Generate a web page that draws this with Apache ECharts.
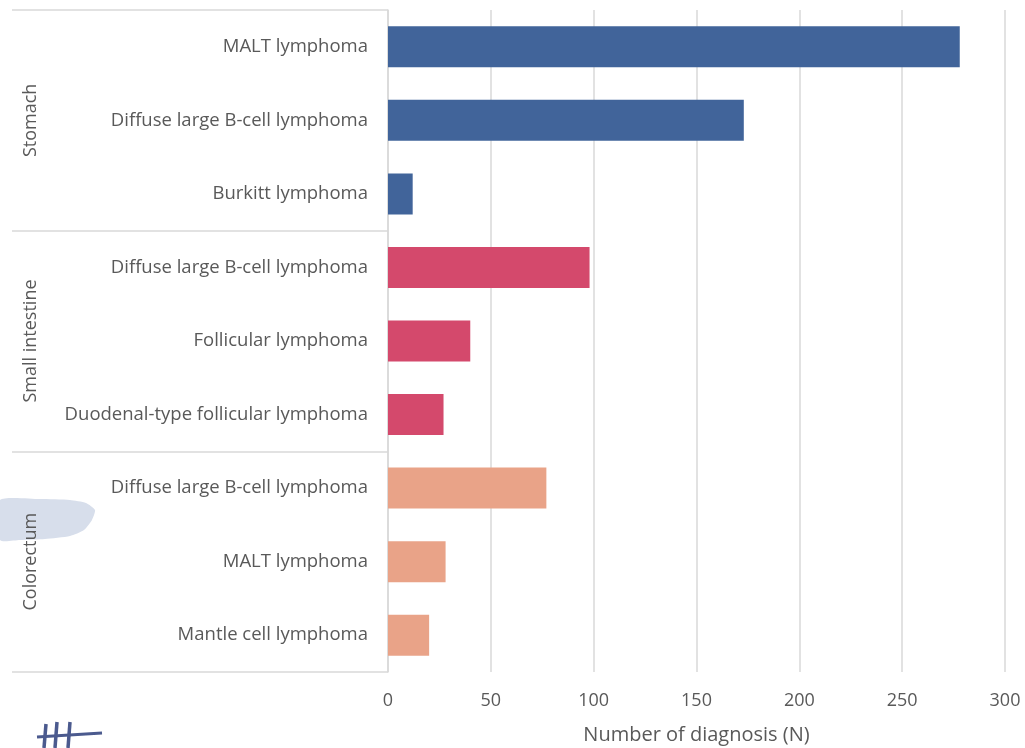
<!DOCTYPE html>
<html><head><meta charset="utf-8">
<script src="https://cdn.jsdelivr.net/npm/echarts@6/dist/echarts.min.js"></script>
<style>html,body{margin:0;padding:0;background:#fff}#c{width:1025px;height:748px}</style>
</head><body><div id="c"></div>
<script>
const groups = ["Stomach", "Small intestine", "Colorectum"];
const categories = [
  "MALT lymphoma", "Diffuse large B-cell lymphoma", "Burkitt lymphoma",
  "Diffuse large B-cell lymphoma", "Follicular lymphoma", "Duodenal-type follicular lymphoma",
  "Diffuse large B-cell lymphoma", "MALT lymphoma", "Mantle cell lymphoma"
];
const categoryGroup = [0, 0, 0, 1, 1, 1, 2, 2, 2];
const values = [278, 173, 12, 98, 40, 27, 77, 28, 20];
const xTicks = [0, 50, 100, 150, 200, 250, 300];
const groupColors = ["#41649A", "#D4496C", "#E9A388"];

const FONT = "Open Sans";
const TXT = "#595959";
const chart = echarts.init(document.getElementById('c'));
chart.setOption({
  animation: false,
  textStyle: { fontFamily: FONT },
  grid: { left: 388, right: 20, top: 10, bottom: 76, containLabel: false, outerBoundsMode: 'none' },
  xAxis: {
    type: 'value', min: xTicks[0], max: xTicks[xTicks.length - 1], interval: 50,
    axisLine: { show: false }, axisTick: { show: false },
    splitLine: { lineStyle: { color: '#D9D9D9', width: 1.5 } },
    axisLabel: { color: TXT, fontSize: 18, margin: 20, fontFamily: FONT },
    name: 'Number of diagnosis (N)', nameLocation: 'middle', nameGap: 53,
    nameTextStyle: { color: TXT, fontSize: 20, fontFamily: FONT }
  },
  yAxis: [{
    type: 'category', data: categories.map((c, i) => i + '|' + c), inverse: true,
    axisLine: { show: true, lineStyle: { color: '#D9D9D9', width: 1.5 } },
    axisTick: { show: false },
    axisLabel: { color: TXT, fontSize: 18.5, margin: 20, fontFamily: FONT,
      formatter: v => v.split('|')[1] }
  }, {
    type: 'category', data: groups, inverse: true, position: 'left',
    axisLine: { show: false },
    axisTick: { show: true, length: 376, lineStyle: { color: '#D9D9D9', width: 1.5 } },
    axisLabel: { color: TXT, fontSize: 18, rotate: 90, margin: 348, fontFamily: FONT }
  }],
  series: [{
    type: 'bar', yAxisIndex: 0, barWidth: 41,
    data: values.map((v, i) => ({ value: v, itemStyle: { color: groupColors[categoryGroup[i]] } }))
  }],
  graphic: [
    { type: 'polygon', z: -1,
      shape: { points: [[0,500],[40,499],[70,500],[86,503],[95,510],[92,520],[84,530],[70,536],[45,539],[20,540],[0,540]], smooth: 0.2 },
      style: { fill: '#D7DEEB' } },
    { type: 'line', shape: { x1: 37, y1: 737, x2: 102, y2: 733 }, style: { stroke: '#4B5A8E', lineWidth: 3 } },
    { type: 'line', shape: { x1: 46, y1: 724, x2: 44, y2: 748 }, style: { stroke: '#4B5A8E', lineWidth: 3.5 } },
    { type: 'line', shape: { x1: 57, y1: 722, x2: 55, y2: 748 }, style: { stroke: '#4B5A8E', lineWidth: 3.5 } },
    { type: 'line', shape: { x1: 70, y1: 722, x2: 68, y2: 748 }, style: { stroke: '#4B5A8E', lineWidth: 3.5 } }
  ]
});
</script></body></html>
